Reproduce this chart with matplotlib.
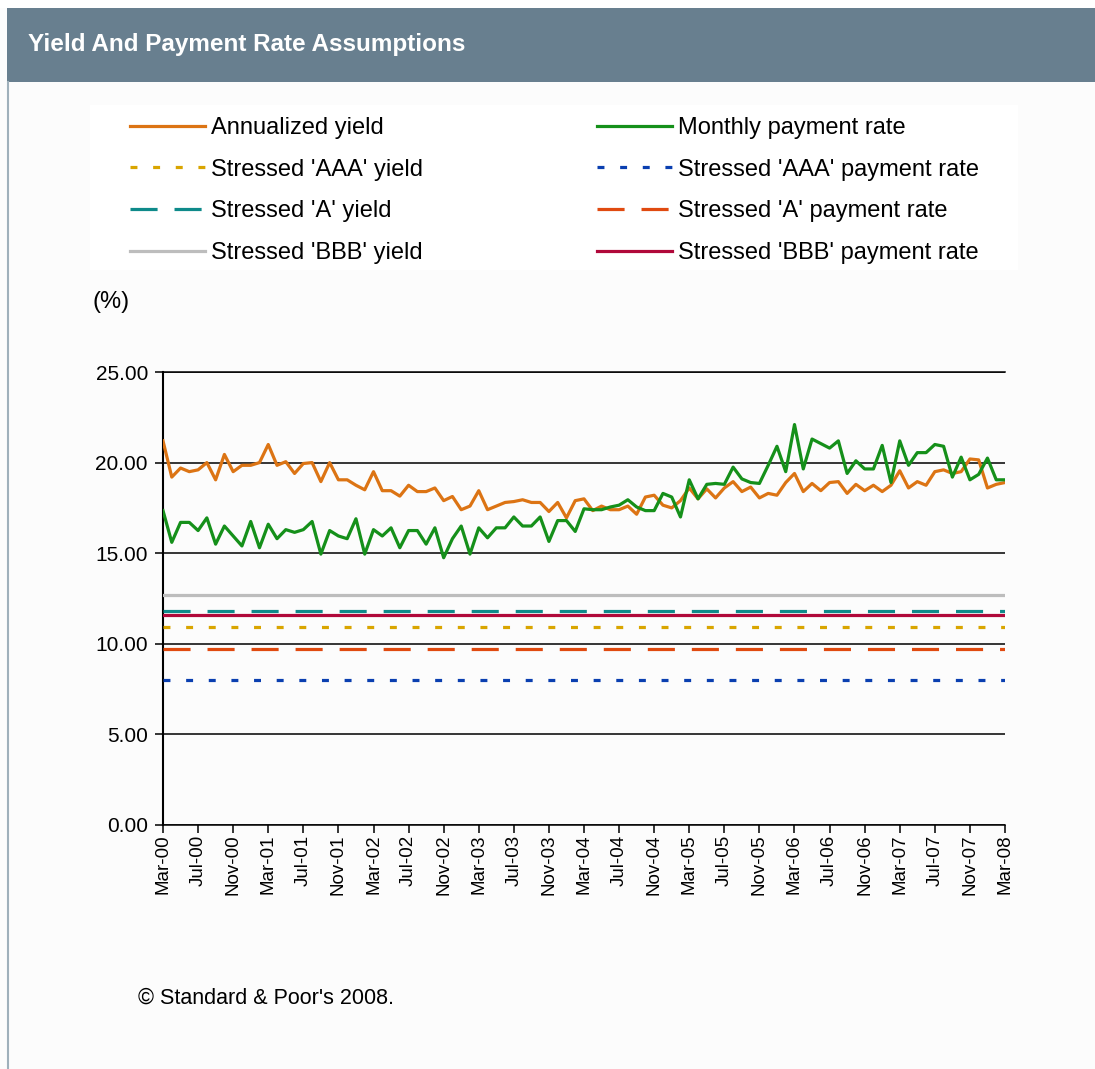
import matplotlib
matplotlib.use('Agg')
import matplotlib.pyplot as plt
from matplotlib.patches import Rectangle
from matplotlib.lines import Line2D
import numpy as np

# ---------------- data ----------------
annualized_yield = [
    21.2, 19.2, 19.7, 19.5, 19.6, 20.0, 19.05, 20.45, 19.5, 19.85, 19.85, 20.0,
    21.0, 19.85, 20.05, 19.4, 19.95, 20.0, 18.95, 20.0, 19.05, 19.05, 18.75, 18.5,
    19.5, 18.45, 18.45, 18.15, 18.75, 18.4, 18.4, 18.6, 17.9, 18.13, 17.4, 17.6,
    18.45, 17.4, 17.6, 17.8, 17.85, 17.95, 17.8, 17.8, 17.3, 17.8, 16.95, 17.9,
    18.0, 17.35, 17.6, 17.4, 17.4, 17.6, 17.15, 18.1, 18.2, 17.65, 17.5, 17.9,
    18.6, 18.0, 18.55, 18.05, 18.6, 18.95, 18.4, 18.65, 18.05, 18.3, 18.2, 18.9,
    19.4, 18.4, 18.85, 18.45, 18.9, 18.95, 18.3, 18.8, 18.45, 18.75, 18.4, 18.75,
    19.55, 18.6, 18.95, 18.75, 19.5, 19.6, 19.4, 19.5, 20.2, 20.15, 18.6, 18.8,
    18.9,
]
monthly_payment_rate = [
    17.35, 15.6, 16.7, 16.7, 16.25, 16.95, 15.5, 16.5, 15.95, 15.4, 16.75, 15.3,
    16.6, 15.8, 16.3, 16.15, 16.3, 16.75, 14.95, 16.25, 15.95, 15.8, 16.9, 14.95,
    16.3, 15.95, 16.4, 15.3, 16.25, 16.25, 15.5, 16.4, 14.75, 15.8, 16.5, 14.95,
    16.4, 15.85, 16.4, 16.4, 17.0, 16.5, 16.5, 17.0, 15.65, 16.8, 16.8, 16.2,
    17.45, 17.4, 17.4, 17.55, 17.65, 17.95, 17.55, 17.35, 17.35, 18.3, 18.1, 17.0,
    19.05, 18.0, 18.8, 18.85, 18.8, 19.75, 19.1, 18.9, 18.85, 19.85, 20.9, 19.5,
    22.1, 19.65, 21.3, 21.05, 20.8, 21.2, 19.4, 20.1, 19.65, 19.65, 20.95, 18.9,
    21.2, 19.85, 20.55, 20.55, 21.0, 20.9, 19.2, 20.3, 19.05, 19.35, 20.25, 19.05,
    19.05,
]
stressed_aaa_yield = 10.9
stressed_a_yield = 11.8
stressed_bbb_yield = 12.7
stressed_aaa_payment = 8.0
stressed_a_payment = 9.7
stressed_bbb_payment = 11.6

tick_labels = ['Mar-00', 'Jul-00', 'Nov-00', 'Mar-01', 'Jul-01', 'Nov-01',
               'Mar-02', 'Jul-02', 'Nov-02', 'Mar-03', 'Jul-03', 'Nov-03',
               'Mar-04', 'Jul-04', 'Nov-04', 'Mar-05', 'Jul-05', 'Nov-05',
               'Mar-06', 'Jul-06', 'Nov-06', 'Mar-07', 'Jul-07', 'Nov-07',
               'Mar-08']
y_ticks = [0, 5, 10, 15, 20, 25]

# ---------------- layout ----------------
W, H = 1095, 1069
plt.rcParams['font.family'] = ['Liberation Sans', 'DejaVu Sans']
plt.rcParams['lines.scale_dashes'] = False


def fx(px):
    return px / W


def fy(py):
    return 1 - py / H


fig = plt.figure(figsize=(W / 100, H / 100), dpi=100, facecolor='#fcfcfc')

# header bar
fig.patches.append(Rectangle((fx(7), fy(82)), (W - 7) / W, 74 / H,
                             transform=fig.transFigure, facecolor='#687f8f',
                             edgecolor='none', zorder=0))
fig.patches.append(Rectangle((0, fy(8)), 1, 8 / H, transform=fig.transFigure,
                             facecolor='white', edgecolor='none', zorder=0))
fig.text(fx(28), fy(45), 'Yield And Payment Rate Assumptions', color='white',
         fontsize=17.5, fontweight='bold', va='center', ha='left')
# left border line
fig.lines.append(Line2D([fx(8), fx(8)], [0, fy(82)], transform=fig.transFigure,
                        color='#9fb0bb', lw=1.5))
# legend background
fig.patches.append(Rectangle((fx(90), fy(270)), (1018 - 90) / W, (270 - 105) / H,
                             transform=fig.transFigure, facecolor='white',
                             edgecolor='none', zorder=0))

ax = fig.add_axes([fx(163), fy(825), (1005 - 163) / W, (825 - 372) / H])
ax.set_facecolor('#fcfcfc')

x = np.arange(len(annualized_yield))
lw = 2.3
dash_long = (19.5, 12.2)
dot_short = (5, 11.3)

l_ann, = ax.plot(x, annualized_yield, color='#dc7414', lw=lw, label='Annualized yield', zorder=3)
l_aaa_y = ax.axhline(stressed_aaa_yield, color='#d9a500', lw=lw, dashes=dot_short,
                     label="Stressed 'AAA' yield", zorder=3)
l_a_y = ax.axhline(stressed_a_yield, color='#0e8a8a', lw=lw, dashes=dash_long,
                   label="Stressed 'A' yield", zorder=3)
l_bbb_y = ax.axhline(stressed_bbb_yield, color='#bdbdbd', lw=lw,
                     label="Stressed 'BBB' yield", zorder=3)
l_mpr, = ax.plot(x, monthly_payment_rate, color='#15901a', lw=lw,
                 label='Monthly payment rate', zorder=3)
l_aaa_p = ax.axhline(stressed_aaa_payment, color='#0a3fb0', lw=lw, dashes=dot_short,
                     label="Stressed 'AAA' payment rate", zorder=3)
l_a_p = ax.axhline(stressed_a_payment, color='#e04a10', lw=lw, dashes=dash_long,
                   label="Stressed 'A' payment rate", zorder=3)
l_bbb_p = ax.axhline(stressed_bbb_payment, color='#b0083a', lw=lw,
                     label="Stressed 'BBB' payment rate", zorder=3)

ax.set_xlim(0, len(annualized_yield) - 1)
ax.set_ylim(0, 25)
ax.set_yticks(y_ticks)
ax.set_yticklabels([f'{v:.2f}' for v in y_ticks])
ax.set_xticks(np.arange(0, len(annualized_yield), 4))
ax.set_xticklabels(tick_labels)
ax.yaxis.grid(True, color='black', lw=1.1)
ax.set_axisbelow(True)
ax.spines['right'].set_visible(False)
for s in ['left', 'bottom', 'top']:
    ax.spines[s].set_color('black')
ax.spines['left'].set_linewidth(1.5)
ax.spines['bottom'].set_linewidth(1.1)
ax.spines['top'].set_linewidth(1.1)
ax.tick_params(axis='y', direction='out', length=5.8, width=1.1, labelsize=15, pad=5)
ax.tick_params(axis='x', direction='out', length=5.8, width=1.1, labelsize=13.5,
               pad=1.0, labelrotation=90)

fig.text(fx(93), fy(302), '(%)', fontsize=17, va='center', ha='left')
fig.text(fx(138), fy(998), "\u00a9 Standard & Poor's 2008.", fontsize=15.5,
         va='center', ha='left')

leg_kw = dict(loc='upper left', frameon=False, borderpad=0, borderaxespad=0,
              handlelength=3.18, handletextpad=0.25, labelspacing=0.83, fontsize=17)
fig.legend(handles=[l_ann, l_aaa_y, l_a_y, l_bbb_y],
           bbox_to_anchor=(fx(130), fy(117)), **leg_kw)
fig.legend(handles=[l_mpr, l_aaa_p, l_a_p, l_bbb_p],
           bbox_to_anchor=(fx(597), fy(117)), **leg_kw)

fig.savefig('out.png', dpi=100, facecolor=fig.get_facecolor())
